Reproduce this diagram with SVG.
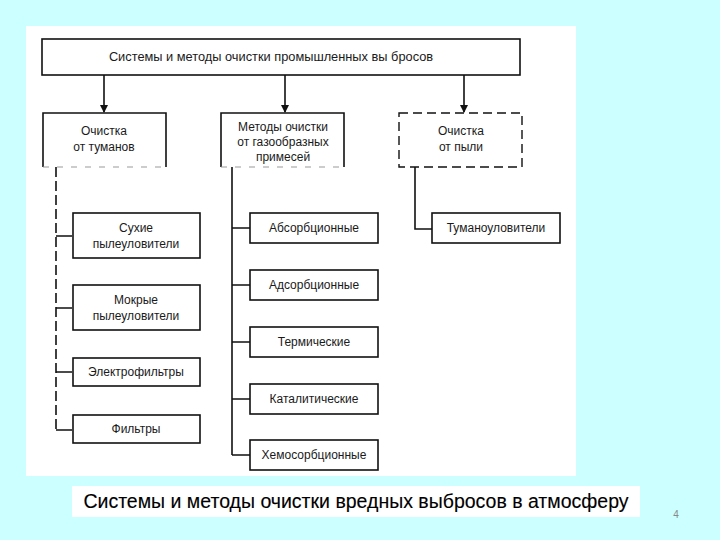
<svg xmlns="http://www.w3.org/2000/svg" width="720" height="540" viewBox="0 0 720 540">
<style>
.box{fill:#fff;stroke:#111;stroke-width:1.6}
.dbox{fill:#fff;stroke:#111;stroke-width:1.4;stroke-dasharray:9 5}
.t{font-family:"Liberation Sans",Arial,sans-serif;font-size:12px;fill:#1a1a1a;text-anchor:middle}
.ln{stroke:#111;stroke-width:1.6;fill:none}
.dl{stroke:#111;stroke-width:1.6;fill:none;stroke-dasharray:10 4}
.faint{stroke:#999;stroke-width:1;stroke-dasharray:6 8;fill:none}
</style>
<defs>
<marker id="ah" markerWidth="8" markerHeight="10" refX="7" refY="4" orient="auto" markerUnits="userSpaceOnUse">
<path d="M0,0 L8,4 L0,8 Z" fill="#111"/>
</marker>
</defs>
<rect x="0" y="0" width="720" height="540" fill="#ccffff"/>
<rect x="26" y="26" width="550" height="450" fill="#fff"/>
<g id="connectors">
<line class="ln" x1="104" y1="75" x2="104" y2="112" marker-end="url(#ah)"/>
<line class="ln" x1="285" y1="75" x2="285" y2="112" marker-end="url(#ah)"/>
<line class="ln" x1="464" y1="75" x2="464" y2="112" marker-end="url(#ah)"/>
<path class="dl" d="M56,167 V432"/>
<path class="ln" d="M56,236 H72 M56,308 H72 M56,372 H72 M56,430 H72"/>
<path class="ln" d="M232,167 V455"/>
<path class="ln" d="M232,228 H250 M232,285 H250 M232,342 H250 M232,399 H250 M232,455 H250"/>
<path class="ln" stroke-width="1.2" d="M415,167 V229 H432"/>
</g>
<g id="n-top">
<rect class="box" x="42" y="39" width="478" height="36"/>
<text class="t" x="271" y="61" style="font-size:12.8px">Системы и методы очистки промышленных вы бросов</text>
</g>
<g id="n-tuman">
<rect x="43" y="113" width="123" height="54" fill="#fff"/>
<path class="ln" d="M43,167 V113 H166 V167"/>
<path class="faint" d="M43,167 H166"/>
<text class="t" x="104" y="135">Очистка</text>
<text class="t" x="104" y="151">от туманов</text>
</g>
<g id="n-gas">
<rect x="221" y="113" width="123" height="54" fill="#fff"/>
<path class="ln" d="M221,167 V113 H344 V167"/>
<path class="faint" d="M221,167 H344"/>
<text class="t" x="283" y="131">Методы очистки</text>
<text class="t" x="283" y="146">от газообразных</text>
<text class="t" x="283" y="161">примесей</text>
</g>
<g id="n-dust">
<rect class="dbox" x="399" y="113" width="123" height="54"/>
<text class="t" x="461" y="135">Очистка</text>
<text class="t" x="461" y="151">от пыли</text>
</g>
<g id="n-dry">
<rect class="box" x="73" y="213" width="127" height="45"/>
<text class="t" x="136" y="232">Сухие</text>
<text class="t" x="136" y="248">пылеуловители</text>
</g>
<g id="n-wet">
<rect class="box" x="73" y="285" width="127" height="45"/>
<text class="t" x="136" y="304">Мокрые</text>
<text class="t" x="136" y="320">пылеуловители</text>
</g>
<g id="n-electro">
<rect class="box" x="73" y="358" width="127" height="28"/>
<text class="t" x="136" y="376">Электрофильтры</text>
</g>
<g id="n-filters">
<rect class="box" x="73" y="415" width="127" height="28"/>
<text class="t" x="136" y="433">Фильтры</text>
</g>
<g id="n-abs">
<rect class="box" x="250" y="213" width="128" height="30"/>
<text class="t" x="314" y="232">Абсорбционные</text>
</g>
<g id="n-ads">
<rect class="box" x="250" y="270" width="128" height="30"/>
<text class="t" x="314" y="289">Адсорбционные</text>
</g>
<g id="n-therm">
<rect class="box" x="250" y="327" width="128" height="30"/>
<text class="t" x="314" y="346">Термические</text>
</g>
<g id="n-cat">
<rect class="box" x="250" y="384" width="128" height="30"/>
<text class="t" x="314" y="403">Каталитические</text>
</g>
<g id="n-chem">
<rect class="box" x="250" y="440" width="128" height="30"/>
<text class="t" x="314" y="459">Хемосорбционные</text>
</g>
<g id="n-fog">
<rect class="box" x="432" y="213" width="128" height="30"/>
<text class="t" x="496" y="232">Туманоуловители</text>
</g>
<g id="caption">
<rect x="72" y="486" width="568" height="31" fill="#fff"/>
<text x="356" y="508" font-family="'Liberation Sans',Arial,sans-serif" font-size="19.5px" fill="#000" stroke="#000" stroke-width="0.12" text-anchor="middle">Системы и методы очистки вредных выбросов в атмосферу</text>
</g>
<text x="676" y="518" font-family="'Liberation Sans',Arial,sans-serif" font-size="10px" fill="#888" text-anchor="middle">4</text>
</svg>
